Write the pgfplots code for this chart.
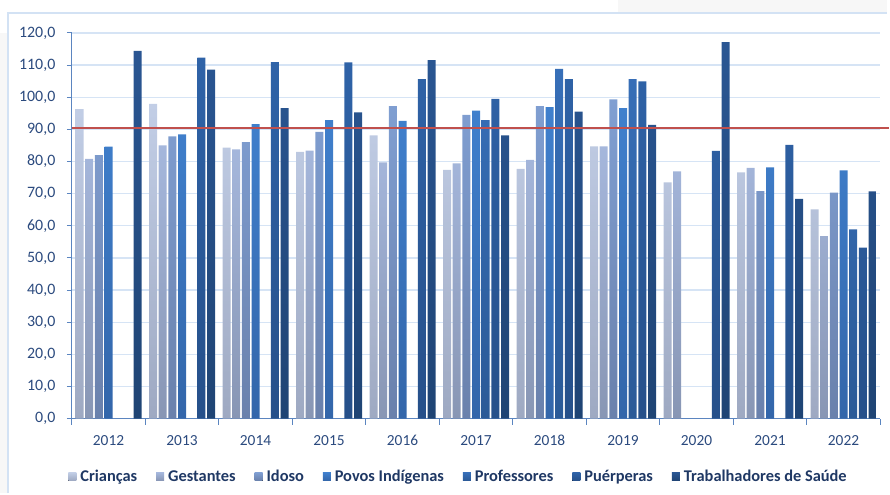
\documentclass[border=0pt]{standalone}
\usepackage{fontspec}
\setmainfont{Carlito}
\usepackage{pgfplots}
\pgfplotsset{compat=1.18}
\definecolor{cA1}{HTML}{C2CEE6}\definecolor{cA2}{HTML}{9EA9C2}
\definecolor{cB1}{HTML}{A5B7DC}\definecolor{cB2}{HTML}{8896B4}
\definecolor{cC1}{HTML}{809FD2}\definecolor{cC2}{HTML}{6A81AC}
\definecolor{cD1}{HTML}{4080CD}\definecolor{cD2}{HTML}{3366AA}
\definecolor{cE1}{HTML}{376FB8}\definecolor{cE2}{HTML}{2B5A97}
\definecolor{cF1}{HTML}{2F63A8}\definecolor{cF2}{HTML}{26508A}
\definecolor{cG1}{HTML}{2A5693}\definecolor{cG2}{HTML}{1F4474}
\definecolor{gridc}{HTML}{D6E4F5}
\definecolor{axc}{HTML}{5B85C0}
\definecolor{txt}{HTML}{2B4A7E}
\definecolor{legt}{HTML}{1F3864}
\definecolor{redl}{HTML}{C0504D}
\definecolor{framec}{HTML}{D3E2F4}
\begin{document}
\begin{tikzpicture}[x=1bp,y=1bp]
\path (0,0) rectangle (890,495);
\fill[black!3] (0,0) rectangle (8,462);
\fill[black!3] (620,483) rectangle (890,495);
\draw[framec, line width=1.2bp] (8,0) -- (8,482) -- (890,482);
\begin{axis}[
  at={(72bp,75bp)}, anchor=south west,
  scale only axis, width=811bp, height=387bp,
  xmin=-0.5, xmax=10.5, ymin=0, ymax=120,
  clip=false,
  ybar=1.7bp, bar width=8bp,
  axis x line*=bottom, axis y line*=left,
  axis line style={draw=axc, line width=1bp, -},
  xtick={0,...,10},
  xticklabels={2012,2013,2014,2015,2016,2017,2018,2019,2020,2021,2022},
  major x tick style={draw=none},
  minor xtick={-0.5,0.5,...,10.5},
  minor tick length=6bp,
  major tick length=5bp,
  tick align=outside,
  tick style={draw=axc, line width=1bp},
  ytick={0,10,...,120},
  ymajorgrids,
  grid style={draw=gridc, line width=1.3bp},
  yticklabel={\pgfmathprintnumber[fixed,fixed zerofill,precision=1,use comma]{\tick}},
  /pgf/number format/assume math mode=true,
  ticklabel style={font=\fontsize{15.5}{18}\selectfont, text=txt},
  xticklabel style={yshift=-8bp},
  yticklabel style={xshift=-8bp, font=\fontsize{16}{18}\selectfont},
  legend columns=7,
  legend style={at={(460bp-72bp,17bp-75bp)}, anchor=center, draw=none, fill=none,
    font=\fontsize{16.5}{19}\selectfont\bfseries, text=legt,
    /tikz/every even column/.append style={column sep=17bp},
    /tikz/every odd column/.append style={column sep=2bp},
    inner sep=0pt},
  legend image code/.code={\fill[#1] (0bp,-4bp) rectangle (8bp,4bp);},
  every axis plot/.append style={draw=none},
]
\addplot[top color=cA1, bottom color=cA2] coordinates {(0,96.3)(1,97.9)(2,84.3)(3,83.0)(4,88.1)(5,77.4)(6,77.7)(7,84.7)(8,73.5)(9,76.6)(10,65.1)};
\addplot[top color=cB1, bottom color=cB2] coordinates {(0,80.8)(1,85.0)(2,83.8)(3,83.4)(4,79.7)(5,79.4)(6,80.5)(7,84.7)(8,76.9)(9,78.0)(10,56.8)};
\addplot[top color=cC1, bottom color=cC2] coordinates {(0,82.0)(1,87.8)(2,86.0)(3,89.2)(4,97.2)(5,94.5)(6,97.2)(7,99.3)(9,70.8)(10,70.3)};
\addplot[top color=cD1, bottom color=cD2] coordinates {(0,84.6)(1,88.4)(2,91.6)(3,92.9)(4,92.6)(5,95.8)(6,96.9)(7,96.6)(9,78.2)(10,77.2)};
\addplot[top color=cE1, bottom color=cE2] coordinates {(5,92.9)(6,108.8)(7,105.6)(10,58.9)};
\addplot[top color=cF1, bottom color=cF2] coordinates {(1,112.3)(2,110.9)(3,110.8)(4,105.6)(5,99.5)(6,105.6)(7,104.9)(8,83.3)(9,85.2)(10,53.2)};
\addplot[top color=cG1, bottom color=cG2] coordinates {(0,114.4)(1,108.6)(2,96.6)(3,95.3)(4,111.5)(5,88.1)(6,95.5)(7,91.4)(8,117.1)(9,68.4)(10,70.7)};
\legend{Crianças,Gestantes,Idoso,Povos Indígenas,Professores,Puérperas,Trabalhadores de Saúde}
\addplot[sharp plot, draw=redl, line width=1.8bp, forget plot] coordinates {(-0.5,90.5)(10.62,90.5)};
\end{axis}
\end{tikzpicture}
\end{document}
